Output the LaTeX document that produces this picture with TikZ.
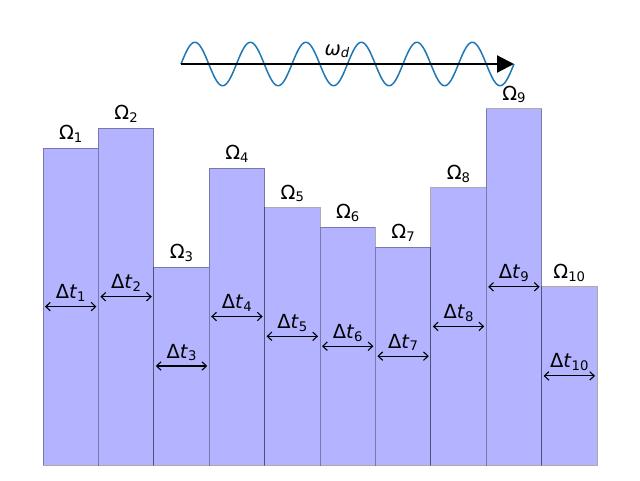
\documentclass[tikz,border=0pt]{standalone}
\usepackage{fontspec}
\setmainfont{DejaVu Sans}
\usetikzlibrary{arrows.meta}
\newcommand\subs[1]{\raisebox{-2.8pt}{\fontsize{13.2}{14}\selectfont #1}}
\definecolor{barfill}{RGB}{179,179,255}
\definecolor{wavecol}{RGB}{31,119,180}
\tikzset{
  barbox/.style={draw=black, draw opacity=0.33, fill=barfill, line width=0.9pt,
    minimum width=55.4pt, inner sep=0pt, outer sep=0pt, anchor=south west},
  dtarrow/.style={<->, >={Straight Barb[length=4.5pt,width=8.5pt]}, line width=1.1pt},
  lbl/.style={anchor=base, inner sep=0pt, font=\fontsize{19.4}{21}\selectfont},
}
\begin{document}
\begin{tikzpicture}[x=1pt,y=-1pt]
\path[use as bounding box] (0,0) rectangle (640,480);
\foreach \i/\h in {1/16,2/17,3/10,4/15,5/13,6/12,7/11,8/14,9/18,10/9}{
  \node[barbox, minimum height=19.8*\h] (b\i) at ({43+55.4*(\i-1)},465) {};
  \node[lbl] (o\i) at ([yshift=8.5pt]b\i.north) {Ω\subs{\i}};
  \draw[dtarrow] ([xshift=2pt]b\i.west) -- ([xshift=-2pt]b\i.east);
  \node[lbl] (d\i) at ([yshift=8pt]b\i.center) {Δ\textit{t}\subs{\i}};
}
\draw[wavecol, line width=1.5pt] plot[domain=0:333, samples=400, smooth] ({181+\x}, {64 - 21.7*sin(\x*6.48649)});
\coordinate (ws) at (181,64);
\coordinate (we) at (514,64);
\draw[line width=2.2pt, -{Triangle[length=17pt,width=17pt]}] (ws) -- (we);
\node[lbl] (w) at (337,55) {\textit{ω}\subs{\textit{d}}};
\end{tikzpicture}
\end{document}
